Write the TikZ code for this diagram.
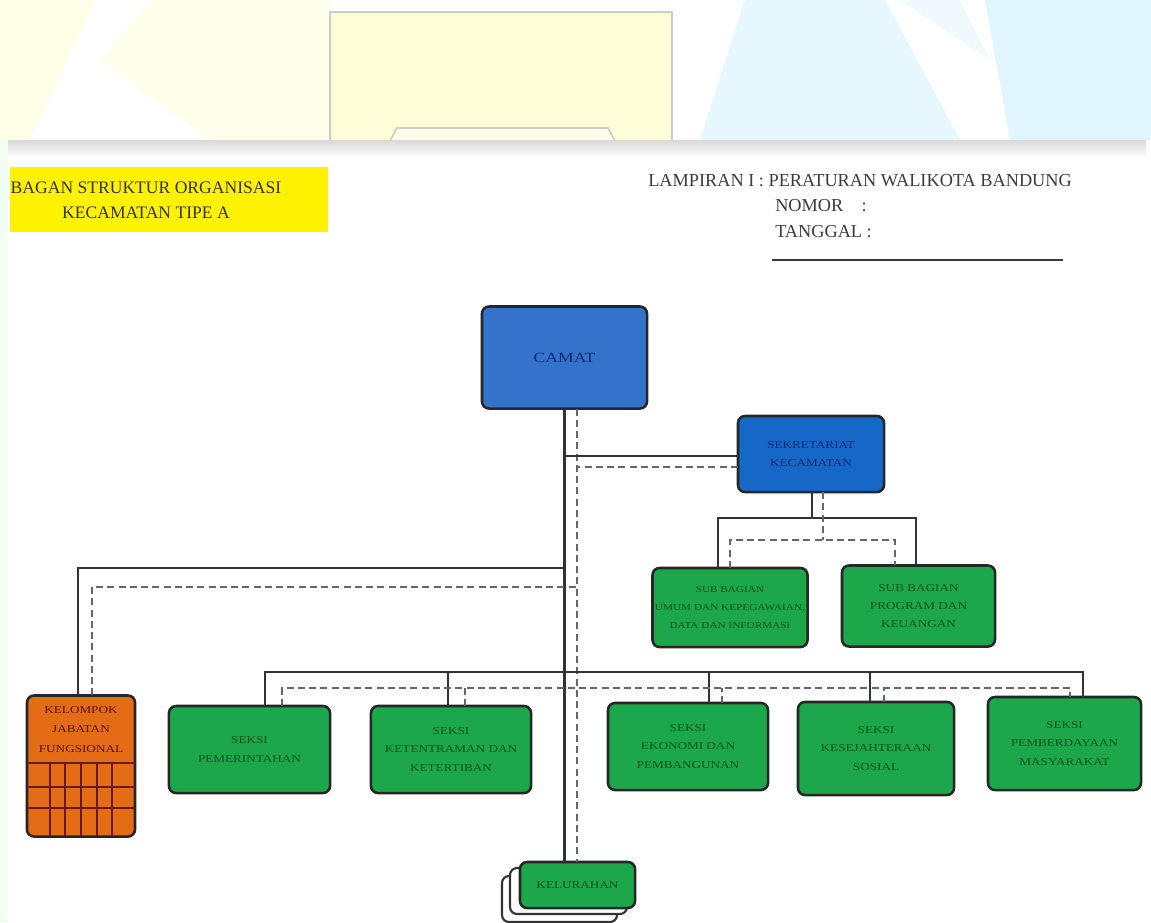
\documentclass[tikz,border=0pt]{standalone}
\usepackage{fontspec}
\setmainfont{Liberation Serif}
\newfontfamily\boxfont[FakeStretch=1.25]{Liberation Serif}
\usetikzlibrary{calc}

\definecolor{camatblue}{RGB}{52,114,204}
\definecolor{sekreblue}{RGB}{22,104,200}
\definecolor{unitgreen}{RGB}{28,168,74}
\definecolor{unittext}{RGB}{8,80,30}
\definecolor{navytext}{RGB}{14,40,110}
\definecolor{kjforange}{RGB}{228,108,22}
\definecolor{kjfline}{RGB}{105,25,10}
\definecolor{headgray}{RGB}{60,60,60}

\tikzset{
  orgbox/.style={draw=black!85, line width=1.8pt, rounded corners=5pt,
    inner sep=0pt, outer sep=0pt, align=center,
    font=\boxfont\fontsize{7.5}{13}\selectfont},
  bluebox/.style={orgbox, fill=camatblue, text=navytext},
  greenbox/.style={orgbox, fill=unitgreen, text=unittext},
  solidln/.style={draw=black!80, line width=2pt},
  dashln/.style={draw=black!60, line width=1.7pt, dash pattern=on 5pt off 3pt},
  headtext/.style={text=headgray, inner sep=0pt, font=\fontsize{13}{14}\selectfont}
}

\begin{document}
\begin{tikzpicture}[x=0.025cm, y=-0.025cm]

\useasboundingbox (0,0) rectangle (1151,922);
\clip (0,0) rectangle (1151,922);

% watermark behind the page
\fill[white] (0,0) rectangle (1151,922);
\fill[yellow!10] (0,0) -- (95,0) -- (30,140) -- (0,140) -- cycle;
\fill[green!6!yellow!8] (150,0) -- (330,0) -- (330,140) -- (210,140) -- (100,60) -- cycle;
\fill[cyan!10] (700,140) -- (745,0) -- (885,0) -- (960,140) -- cycle;
\fill[cyan!12] (985,0) -- (1151,0) -- (1151,140) -- (1010,140) -- cycle;
\fill[cyan!6] (900,0) -- (960,0) -- (990,60) -- cycle;
\draw[gray!40, line width=1.2pt, fill=yellow!16] (330,12) rectangle (672,150);
\draw[gray!40, line width=1.2pt, fill=yellow!8] (385,150) -- (397,128) -- (608,128) -- (620,150);
\fill[green!6] (0,140) rectangle (8,922);

% page
\fill[white] (8,140) rectangle (1146,922);
\shade[top color=gray!30, bottom color=white] (8,140) rectangle (1146,158);

% title and header
\fill[yellow] (10,167) rectangle (328,232);
\node[headtext, text=black!80, align=center, font=\fontsize{12.5}{18}\selectfont] (title) at (146,200)
  {BAGAN STRUKTUR ORGANISASI\\KECAMATAN TIPE A};
\node[headtext, anchor=west] (lampiran) at (648,181) {LAMPIRAN I : PERATURAN WALIKOTA BANDUNG};
\node[headtext, anchor=west] (nomor) at (775,206) {NOMOR\quad :};
\node[headtext, anchor=west] (tanggal) at (775,232) {TANGGAL :};
\draw[headgray, line width=1.8pt] (772,260) -- (1063,260);

% units
\node[bluebox, minimum width=4.125cm, minimum height=2.55cm,
  font=\boxfont\fontsize{10}{12}\selectfont] (camat) at (564.5,357.5) {CAMAT};
\node[bluebox, fill=sekreblue, minimum width=3.65cm, minimum height=1.9cm] (sekre) at (811,454)
  {SEKRETARIAT\\KECAMATAN};
\node[greenbox, minimum width=3.875cm, minimum height=1.975cm,
  font=\boxfont\fontsize{6.4}{13}\selectfont] (sub1) at (730,607.5)
  {SUB BAGIAN\\UMUM DAN KEPEGAWAIAN,\\DATA DAN INFORMASI};
\node[greenbox, minimum width=3.825cm, minimum height=2.025cm] (sub2) at (918.5,606)
  {SUB BAGIAN\\PROGRAM DAN\\KEUANGAN};

\node[greenbox, minimum width=4.025cm, minimum height=2.175cm] (s1) at (249.5,749.5)
  {SEKSI\\PEMERINTAHAN};
\node[greenbox, minimum width=4cm, minimum height=2.175cm] (s2) at (451,749.5)
  {SEKSI\\KETENTRAMAN DAN\\KETERTIBAN};
\node[greenbox, minimum width=4cm, minimum height=2.175cm] (s3) at (688,746.5)
  {SEKSI\\EKONOMI DAN\\PEMBANGUNAN};
\node[greenbox, minimum width=3.9cm, minimum height=2.325cm] (s4) at (876,748.5)
  {SEKSI\\KESEJAHTERAAN\\SOSIAL};
\node[greenbox, minimum width=3.825cm, minimum height=2.325cm] (s5) at (1064.5,743.5)
  {SEKSI\\PEMBERDAYAAN\\MASYARAKAT};

% kelompok jabatan fungsional with its grid
\node[orgbox, fill=kjforange, minimum width=2.7cm, minimum height=3.525cm] (kjf) at (81,766) {};
\node[text=kjfline!80!black, align=center, inner sep=0pt,
  font=\boxfont\fontsize{7.5}{14}\selectfont] (kjflabel) at ($(kjf.north)+(0,34)$)
  {KELOMPOK\\JABATAN\\FUNGSIONAL};
\foreach \y in {763,787,808}
  \draw[kjfline, line width=1.5pt] (kjf.west |- 0,\y) -- (kjf.east |- 0,\y);
\foreach \x in {50,65,81,97,112}
  \draw[kjfline, line width=1.1pt] (\x,763) -- (\x,836);

% kelurahan, stacked
\draw[black!80, line width=1.5pt, fill=white, rounded corners=5pt] (502,876) rectangle (617,922);
\draw[black!80, line width=1.5pt, fill=white, rounded corners=5pt] (510,868) rectangle (627,914);
\node[greenbox, minimum width=2.875cm, minimum height=1.15cm] (kel) at (577.5,885) {KELURAHAN};

% lines of command
\coordinate (cd) at ($(camat.south)+(12.5,0)$);
\draw[solidln] (camat.south) -- (camat.south |- kel.north);
\draw[dashln] (cd) -- (cd |- kel.north);

\draw[solidln] ($(sekre.west)+(0,2)$) coordinate (sw) -- (camat.south |- sw);
\draw[dashln] ($(sekre.west)+(0,13)$) coordinate (sw2) -- (cd |- sw2);

\draw[solidln] ($(sekre.south)+(1,0)$) -- ++(0,26) coordinate (subbus);
\draw[solidln] ($(sub1.north)+(-12,0)$) |- (subbus) -| ($(sub2.north)+(-2.5,0)$);
\draw[dashln] ($(sekre.south)+(12,0)$) -- ++(0,48) coordinate (subbus2);
\draw[dashln] (sub1.north) |- (subbus2) -| ($(sub2.north)+(-23.5,0)$);

\coordinate (kbus) at (564.5,568);
\coordinate (kbus2) at (577,587);
\draw[solidln] ($(kjf.north)+(-3,0)$) |- (kbus);
\draw[dashln] ($(kjf.north)+(11,0)$) |- (kbus2);

\coordinate (sbus) at (564.5,672);
\coordinate (sbus2) at (577,688);
\draw[solidln] ($(s1.north)+(15.5,0)$) |- (sbus) -| ($(s5.north)+(18.5,0)$);
\foreach \s/\dx in {s2/-3, s3/21, s4/-6}
  \draw[solidln] ($(\s.north)+(\dx,0)$) coordinate (t) -- (t |- sbus);
\draw[dashln] ($(s1.north)+(32.5,0)$) |- (sbus2) -| ($(s5.north)+(5.5,0)$);
\foreach \s/\dx in {s2/14, s3/34, s4/8}
  \draw[dashln] ($(\s.north)+(\dx,0)$) coordinate (t) -- (t |- sbus2);

\end{tikzpicture}
\end{document}
